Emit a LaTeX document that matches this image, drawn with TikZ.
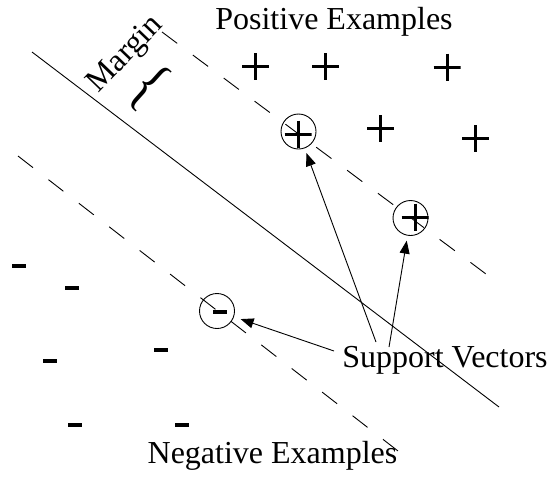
\documentclass[tikz,border=0pt]{standalone}
\usepackage{fontspec}
\setmainfont{Liberation Serif}
\usetikzlibrary{arrows.meta}
\tikzset{
  plusmark/.style={minimum size=27pt, inner sep=0pt, outer sep=0pt,
    path picture={\draw[line width=3pt] (path picture bounding box.north) -- (path picture bounding box.south)
      (path picture bounding box.west) -- (path picture bounding box.east);}},
  minusmark/.style={minimum width=14pt, minimum height=4pt, inner sep=0pt, outer sep=0pt, fill=black},
  svcircle/.style={circle, draw, line width=0.9pt, minimum size=35pt, inner sep=0pt},
  label/.style={font=\fontsize{32}{36}\selectfont, inner sep=0pt, anchor=base},
  hyper/.style={line width=0.9pt},
  marginline/.style={line width=0.9pt, dash pattern=on 19pt off 19.5pt},
  svarrow/.style={line width=0.9pt, -{Triangle[length=13pt,width=10pt]}, shorten >=5pt}
}
\begin{document}
\begin{tikzpicture}[x=1pt,y=-1pt]
\useasboundingbox (0,0) rectangle (553,477);
% hyperplane and margins
\coordinate (h1) at (32,52);
\coordinate (h2) at (499,407);
\coordinate (p1) at (162,32);
\coordinate (p2) at (486,274);
\coordinate (n1) at (18,156);
\coordinate (n2) at (398,451);
\draw[hyper] (h1) -- (h2);
\draw[marginline] (p1) -- (p2);
\draw[marginline] (n1) -- (n2);
% labels
\node[label] (pos) at (334,29) {Positive Examples};
\node[label] (neg) at (272.5,463) {Negative Examples};
\node[label] (sv) at (445,367) {Support Vectors};
\node[font=\fontsize{32}{36}\selectfont, rotate=46, inner sep=0pt, anchor=base] (margin) at (131,60) {Margin};
\node[rotate=-42, inner sep=0pt] (brace) at (149,87) {\scalebox{1}[1.3]{\fontsize{50}{50}\selectfont\{}};
% positive examples
\node[plusmark] (q1) at (255.5,66.5) {};
\node[plusmark] (q2) at (325.5,66.5) {};
\node[plusmark] (q3) at (447,67) {};
\node[plusmark] (q4) at (380.5,128.5) {};
\node[plusmark] (q5) at (475.5,138.5) {};
\node[plusmark] (q6) at (298,134) {};
\node[plusmark] (q7) at (415,217) {};
% negative examples
\node[minusmark] (m1) at (19,266) {};
\node[minusmark] (m2) at (72,288) {};
\node[minusmark] (m3) at (50,361) {};
\node[minusmark] (m4) at (161,350) {};
\node[minusmark] (m5) at (75,425) {};
\node[minusmark] (m6) at (182,425) {};
\node[minusmark] (m7) at (220,312) {};
% support vector circles
\node[svcircle] (s1) at (298.5,131.5) {};
\node[svcircle] (s2) at (410.5,218) {};
\node[svcircle] (s3) at (217,311) {};
% arrows
\coordinate (a1) at (376,342);
\coordinate (a2) at (389,347);
\coordinate (a3) at (334,351);
\draw[svarrow] (a1) -- (s1);
\draw[svarrow] (a2) -- (s2);
\draw[svarrow, shorten >=7pt] (a3) -- (s3);
\end{tikzpicture}
\end{document}
